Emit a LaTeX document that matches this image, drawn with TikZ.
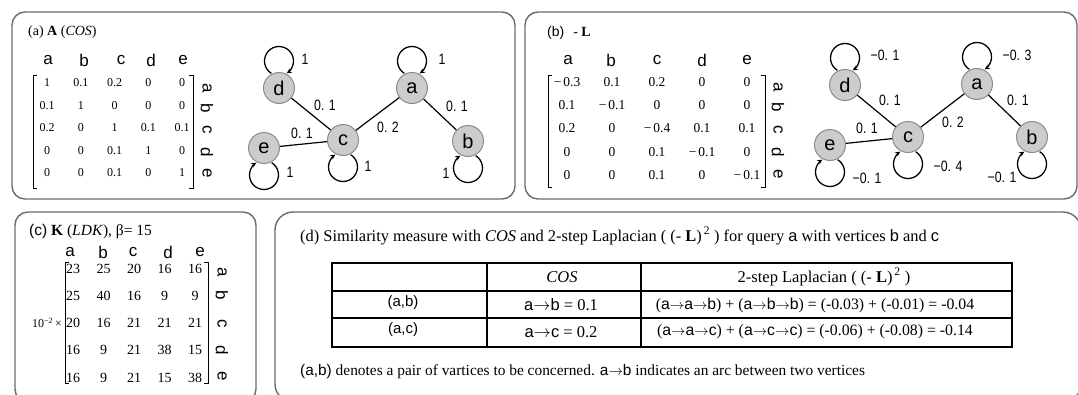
\documentclass[tikz,border=0pt]{standalone}
\usepackage{fontspec}
\setmainfont{Liberation Serif}
\newfontfamily\sansf{Liberation Sans}
\usetikzlibrary{arrows.meta,matrix}
\newcommand\sa[1]{{\sansf #1}}
\newcommand\ra{\ensuremath{\rightarrow}}
\begin{document}
\begin{tikzpicture}[x=1pt,y=1pt,
  panel/.style={draw=black!58, line width=1.4pt, rounded corners=13pt},
  vtx/.style={circle, draw=black!45, fill=black!20, line width=1pt, minimum size=31pt, inner sep=0pt, font=\sansf\fontsize{20}{20}\selectfont},
  edgeline/.style={line width=1.2pt},
  selfloop/.style={line width=1.3pt, -{Stealth[length=5pt,width=5pt]}},
  wlab/.style={font=\sansf\fontsize{15}{15}\selectfont, inner sep=0pt, xscale=0.82},
  hdr/.style={font=\sansf\fontsize{17}{17}\selectfont, inner sep=0pt},
  rlab/.style={font=\sansf\fontsize{17}{17}\selectfont, inner sep=0pt, rotate=-90},
  ttl/.style={font=\fontsize{14}{14}\selectfont, inner sep=0pt, anchor=west},
  brk/.style={line width=0.6pt},
  tab/.style={font=\fontsize{16.5}{16.5}\selectfont, inner sep=0pt},
  tabf/.style={font=\fontsize{15.8}{15.8}\selectfont, inner sep=0pt},
]
\useasboundingbox (0,0) rectangle (1078,-394);

% panels
\draw[panel] (12,-12) rectangle (515,-199);
\draw[panel] (525,-12) rectangle (1077,-199);
\draw[panel] (15,-212) rectangle (256,-402);
\draw[panel, rounded corners=18pt] (275,-212) rectangle (1081,-402);

% ---------------- (a) ----------------
\node[ttl] (ta) at (28,-32) {(a) \textbf{A} (\textit{COS})};
\foreach \l/\x in {a/48,b/84,c/121,d/151,e/183}
  \node[hdr] (ah\l) at (\x,-60) {\l};
\matrix (ma) [matrix of nodes, column sep=0pt, row sep=0pt,
  nodes={font=\fontsize{12}{12}\selectfont, inner sep=0pt, minimum width=33.75pt, minimum height=22.5pt, anchor=center}]
  at (114.5,-128) {
  1 & 0.1 & 0.2 & 0 & 0 \\
  0.1 & 1 & 0 & 0 & 0 \\
  0.2 & 0 & 1 & 0.1 & 0.1 \\
  0 & 0 & 0.1 & 1 & 0 \\
  0 & 0 & 0.1 & 0 & 1 \\
};
\draw[brk] (37,-75) -- (33,-75) -- (33,-188) -- (37,-188);
\draw[brk] (189,-75) -- (193,-75) -- (193,-188) -- (189,-188);
\foreach \l/\y in {a/88,b/108,c/130,d/152,e/173}
  \node[rlab] (ar\l) at (207,-\y) {\l};

% graph (a)
\node[vtx] (d1) at (279,-88) {d};
\node[vtx] (a1) at (412,-88) {a};
\node[vtx] (c1) at (343,-140) {c};
\node[vtx] (e1) at (264,-148) {e};
\node[vtx] (b1) at (468,-141) {b};
\draw[edgeline] (d1) -- (c1);
\draw[edgeline] (e1) -- (c1);
\draw[edgeline] (a1) -- (c1);
\draw[edgeline] (a1) -- (b1);
\foreach \n in {d1,a1}
  \draw[selfloop] ([shift={(-7.68,14.7)}]\n.center) arc[start angle=238, end angle=-58, radius=14.5];
\foreach \n in {c1,e1,b1}
  \draw[selfloop] ([shift={(7.68,-14.7)}]\n.center) arc[start angle=58, end angle=-238, radius=14.5];
\node[wlab] (ld1) at (305,-59) {1};
\node[wlab] (la1) at (442,-59) {1};
\node[wlab] (lc1) at (368,-166) {1};
\node[wlab] (le1) at (290,-172) {1};
\node[wlab] (lb1) at (446,-173) {1};
\node[wlab] (ldc1) at (325,-105) {0. 1};
\node[wlab] (lec1) at (302,-133) {0. 1};
\node[wlab] (lac1) at (388,-127) {0. 2};
\node[wlab] (lab1) at (457,-106) {0. 1};

% ---------------- (b) ----------------
\node[ttl] (tb) at (547,-33) {\sa{(b)}\hspace{9pt}- \textbf{L}};
\foreach \l/\x in {a/568,b/611,c/657,d/702,e/747}
  \node[hdr] (bh\l) at (\x,-60) {\l};
\matrix (mb) [matrix of nodes, column sep=0pt, row sep=0pt,
  nodes={font=\fontsize{13.5}{13.5}\selectfont, inner sep=0pt, minimum width=45pt, minimum height=23.25pt, anchor=center}]
  at (657,-128.5) {
  −\hspace{2pt}0.3 & 0.1 & 0.2 & 0 & 0 \\
  0.1 & −\hspace{2pt}0.1 & 0 & 0 & 0 \\
  0.2 & 0 & −\hspace{2pt}0.4 & 0.1 & 0.1 \\
  0 & 0 & 0.1 & −\hspace{2pt}0.1 & 0 \\
  0 & 0 & 0.1 & 0 & −\hspace{2pt}0.1 \\
};
\draw[brk] (552,-75) -- (548,-75) -- (548,-187) -- (552,-187);
\draw[brk] (761,-75) -- (765,-75) -- (765,-187) -- (761,-187);
\foreach \l/\y in {a/87,b/107,c/130,d/152,e/174}
  \node[rlab] (br\l) at (778,-\y) {\l};

% graph (b)
\node[vtx] (d2) at (845,-85) {d};
\node[vtx] (a2) at (977,-84) {a};
\node[vtx] (c2) at (908,-137) {c};
\node[vtx] (e2) at (830,-145) {e};
\node[vtx] (b2) at (1032,-137) {b};
\draw[edgeline] (d2) -- (c2);
\draw[edgeline] (e2) -- (c2);
\draw[edgeline] (a2) -- (c2);
\draw[edgeline] (a2) -- (b2);
\foreach \n in {d2,a2}
  \draw[selfloop] ([shift={(-7.68,14.7)}]\n.center) arc[start angle=238, end angle=-58, radius=14.5];
\foreach \n in {c2,e2,b2}
  \draw[selfloop] ([shift={(7.68,-14.7)}]\n.center) arc[start angle=58, end angle=-238, radius=14.5];
\node[wlab] (ld2) at (885,-55) {−0. 1};
\node[wlab] (la2) at (1017,-55) {−0. 3};
\node[wlab] (lc2) at (948,-166) {−0. 4};
\node[wlab] (le2) at (867,-178) {−0. 1};
\node[wlab] (lb2) at (1002,-177) {−0. 1};
\node[wlab] (ldc2) at (890,-100) {0. 1};
\node[wlab] (lec2) at (867,-128) {0. 1};
\node[wlab] (lac2) at (953,-122) {0. 2};
\node[wlab] (lab2) at (1018,-100) {0. 1};

% ---------------- (c) ----------------
\node[ttl, font=\fontsize{15.5}{15.5}\selectfont] (tc) at (29,-232) {\sa{(c)} \textbf{K} (\textit{LDK}), β= 15};
\foreach \l/\x in {a/70,b/103,c/133,d/168,e/200}
  \node[hdr] (ch\l) at (\x,-252) {\l};
\matrix (mc) [matrix of nodes, column sep=0pt, row sep=0pt,
  nodes={font=\fontsize{14}{14}\selectfont, inner sep=0pt, minimum width=30.5pt, minimum height=27.25pt, anchor=center}]
  at (134,-323) {
  23 & 25 & 20 & 16 & 16 \\
  25 & 40 & 16 & 9 & 9 \\
  20 & 16 & 21 & 21 & 21 \\
  16 & 9 & 21 & 38 & 15 \\
  16 & 9 & 21 & 15 & 38 \\
};
\node[font=\fontsize{12}{12}\selectfont, inner sep=0pt, anchor=east] (pf) at (62,-323) {10\textsuperscript{−2}\,×};
\draw[brk] (69,-262) -- (65,-262) -- (65,-383) -- (69,-383);
\draw[brk] (204,-262) -- (208,-262) -- (208,-383) -- (204,-383);
\foreach \l/\y in {a/272,b/295,c/324,d/350,e/376}
  \node[rlab] (cr\l) at (222,-\y) {\l};

% ---------------- (d) ----------------
\node[ttl, font=\fontsize{16.4}{16.4}\selectfont] (td) at (300,-236) {(d) Similarity measure with \textit{COS} and 2-step Laplacian ( (- \textbf{L})\textsuperscript{\,2} ) for query \sa{a} with vertices \sa{b} and \sa{c}};
\draw[line width=1.8pt] (332,-263) rectangle (1012,-347);
\draw[line width=1.5pt] (332,-291) -- (1012,-291);
\draw[line width=1.5pt] (332,-318) -- (1012,-318);
\draw[line width=1.8pt] (487,-263) -- (487,-347);
\draw[line width=1.8pt] (641,-263) -- (641,-347);
\node[tab] (h2) at (562,-277) {\textit{COS}};
\node[tab] (h3) at (824,-277) {2-step Laplacian ( (- \textbf{L})\textsuperscript{\,2} )};
\node[tab, font=\fontsize{15}{15}\selectfont] (r1c1) at (403,-303) {\sa{(a,b)}};
\node[tab] (r1c2) at (561,-305) {\sa{a}\ra\sa{b} = 0.1};
\node[tabf] (r1c3) at (815,-305) {(\sa{a}\ra\sa{a}\ra\sa{b}) + (\sa{a}\ra\sa{b}\ra\sa{b}) = (-0.03) + (-0.01) = -0.04};
\node[tab, font=\fontsize{15}{15}\selectfont] (r2c1) at (403,-330) {\sa{(a,c)}};
\node[tab] (r2c2) at (561,-332) {\sa{a}\ra\sa{c} = 0.2};
\node[tabf] (r2c3) at (815,-332) {(\sa{a}\ra\sa{a}\ra\sa{c}) + (\sa{a}\ra\sa{c}\ra\sa{c}) = (-0.06) + (-0.08) = -0.14};
\node[ttl, font=\fontsize{15.4}{15.4}\selectfont] (fn) at (300,-372) {\sa{(a,b)} denotes a pair of vartices to be concerned. \sa{a}\ra\sa{b} indicates an arc between two vertices};
\end{tikzpicture}
\end{document}
